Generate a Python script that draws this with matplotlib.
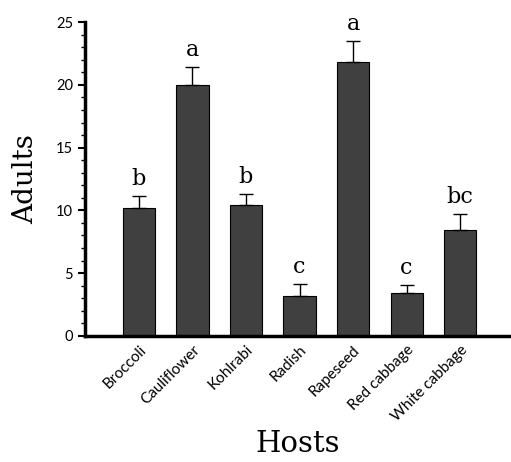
import matplotlib.pyplot as plt
from matplotlib.ticker import MultipleLocator

hosts = ["Broccoli", "Cauliflower", "Kohlrabi", "Radish", "Rapeseed",
         "Red cabbage", "White cabbage"]
adults = [10.2, 20.0, 10.4, 3.2, 21.8, 3.4, 8.4]
errors = [0.95, 1.4, 0.9, 0.9, 1.7, 0.65, 1.3]
letters = ["b", "a", "b", "c", "a", "c", "bc"]

fig = plt.figure(figsize=(5.11, 4.62), dpi=100)
ax = fig.add_axes([0.166, 0.273, 0.834, 0.679])

x = range(len(hosts))
ax.bar(x, adults, width=0.6, color="#404040", edgecolor="black", linewidth=0.8,
       zorder=2)
ax.errorbar(x, adults, yerr=[[0] * len(errors), errors], fmt="none",
            ecolor="black", elinewidth=1.0, capsize=5, capthick=1.0, zorder=3)

for xi, (v, e, lab) in enumerate(zip(adults, errors, letters)):
    ax.text(xi, v + e + 0.5, lab, ha="center", va="bottom",
            family="DejaVu Serif", fontsize=16)

ax.set_xlim(-1.01, 6.95)
ax.set_ylim(0, 25)
ax.yaxis.set_major_locator(MultipleLocator(5))
ax.yaxis.set_minor_locator(MultipleLocator(1))
ax.tick_params(axis="y", which="major", length=5, width=1.5, labelsize=10.5)
ax.tick_params(axis="y", which="minor", length=3, width=1.0)
ax.tick_params(axis="x", length=0, pad=5)
ax.set_xticks(list(x))
ax.set_xticklabels(hosts, rotation=45, ha="right", rotation_mode="anchor",
                   fontsize=11)
for t in ax.get_yticklabels() + ax.get_xticklabels():
    t.set_family("Lato")

for side in ["top", "right"]:
    ax.spines[side].set_visible(False)
for side in ["left", "bottom"]:
    ax.spines[side].set_linewidth(2.5)

ax.set_ylabel("Adults", family="DejaVu Serif", fontsize=20, labelpad=12)
fig.text(0.583, 0.04, "Hosts", ha="center", va="center",
         family="DejaVu Serif", fontsize=21)

fig.savefig("out.png", dpi=100)
